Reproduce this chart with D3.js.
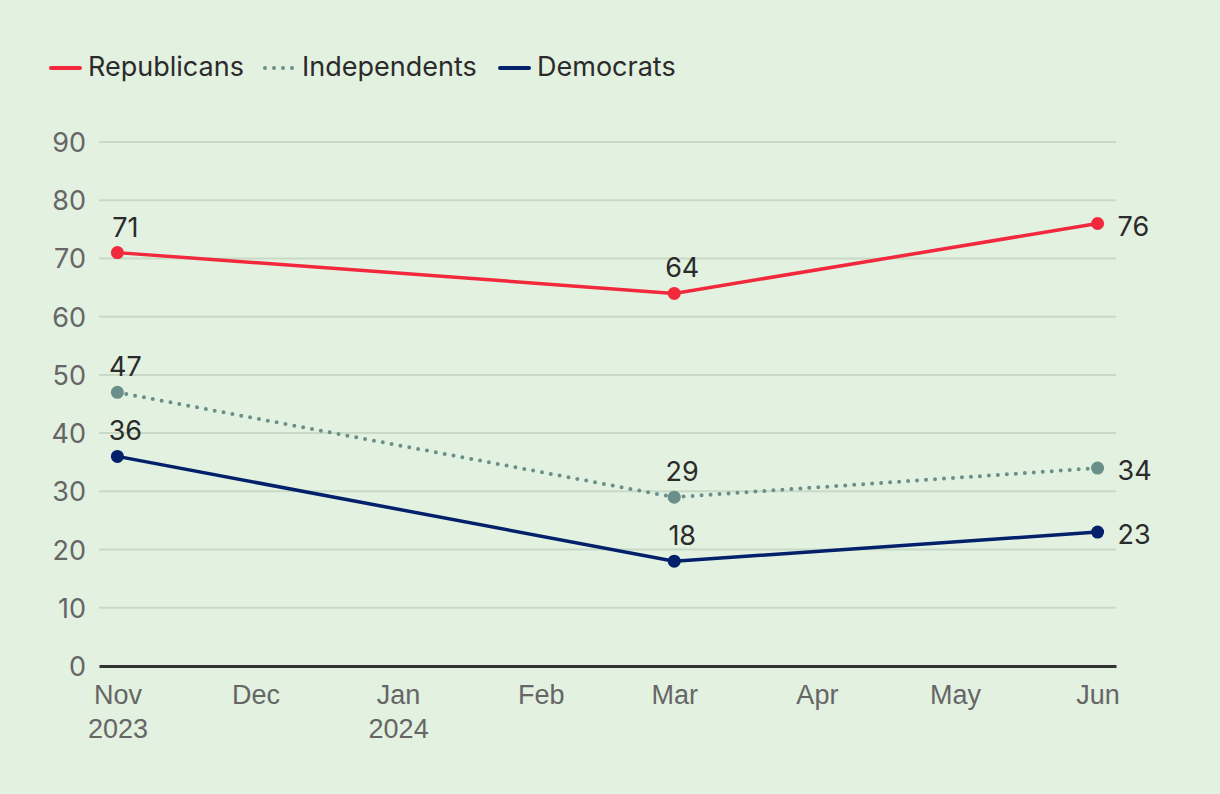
<!DOCTYPE html>
<html><head><meta charset="utf-8">
<script src="https://cdn.jsdelivr.net/npm/d3@7"></script>
<style>
html,body{margin:0;padding:0;background:#e2f1e0;}
svg{display:block;font-family:Inter,"Noto Sans",sans-serif;}
</style></head>
<body>
<script>
const dates = ["2023-11-01","2024-03-01","2024-06-01"];
const republicans = [71,64,76];
const independents = [47,29,34];
const democrats = [36,18,23];
const seriesNames = ["Republicans","Independents","Democrats"];
const seriesColors = ["#f2283c","#6a8f8a","#03206b"];
const yTicks = [0,10,20,30,40,50,60,70,80,90];
const xTickDates = ["2023-11-01","2023-12-01","2024-01-01","2024-02-01","2024-03-01","2024-04-01","2024-05-01","2024-06-01"];

const W=1220,H=794;
const FS=27;
const svg=d3.select("body").append("svg").attr("width",W).attr("height",H);
svg.append("rect").attr("width",W).attr("height",H).attr("fill","#e2f1e0");

const parse=d3.utcParse("%Y-%m-%d");
const x=d3.scaleUtc().domain([parse("2023-10-28"),parse("2024-06-05")]).range([99,1116]);
const y=d3.scaleLinear().domain([0,90]).range([666,142]);

// gridlines
const yAxis=d3.axisLeft(y).tickValues(yTicks).tickSize(0).tickPadding(13);
const gy=svg.append("g").attr("transform","translate(99,0)").call(yAxis);
gy.select(".domain").remove();
gy.selectAll("text").attr("font-size",FS).attr("fill","#666").attr("dy","0.35em").attr("font-family","Inter,sans-serif");
svg.append("g").selectAll("line").data(yTicks.filter(d=>d>0)).join("line")
 .attr("x1",99).attr("x2",1116).attr("y1",d=>y(d)).attr("y2",d=>y(d))
 .attr("stroke","#c8dac5").attr("stroke-width",2);

// x axis
const fmtM=d3.utcFormat("%b");
const xAxis=d3.axisBottom(x).tickValues(xTickDates.map(parse)).tickSize(0).tickPadding(0).tickFormat("");
const gx=svg.append("g").attr("transform","translate(0,666)").call(xAxis);
gx.select(".domain").attr("stroke","#333").attr("stroke-width",3);
gx.selectAll(".tick").each(function(d){
  const t=d3.select(this).append("text").attr("fill","#666").attr("font-size",FS).attr("text-anchor","middle");
  t.append("tspan").attr("x",0).attr("y",38).text(fmtM(d));
  if(d.getUTCMonth()===10||d.getUTCMonth()===0){
    t.append("tspan").attr("x",0).attr("y",72).text(d.getUTCFullYear());
  }
});

const allSeries=[republicans,independents,democrats];
const line=d3.line().x((d,i)=>x(parse(dates[i]))).y(d=>y(d));
allSeries.forEach((vals,si)=>{
  const p=svg.append("path").datum(vals).attr("d",line).attr("fill","none")
    .attr("stroke",seriesColors[si]).attr("stroke-width",si===1?4:3.5);
  if(si===1) p.attr("stroke-dasharray","0 9").attr("stroke-linecap","round");
  svg.append("g").selectAll("circle").data(vals).join("circle")
   .attr("cx",(d,i)=>x(parse(dates[i]))).attr("cy",d=>y(d)).attr("r",6.5).attr("fill",seriesColors[si]);
  svg.append("g").selectAll("text").data(vals).join("text")
   .attr("x",(d,i)=>i<2?x(parse(dates[i]))+8:x(parse(dates[i]))+20)
   .attr("y",(d,i)=>i<2?y(d)-16:y(d)+12)
   .attr("text-anchor",(d,i)=>i<2?"middle":"start")
   .attr("font-size",FS).attr("fill","#2b2b2b").text(d=>d);
});

// legend
const leg=[{x1:51,x2:80,tx:88},{x1:265,x2:295,tx:302},{x1:500,x2:529,tx:537}];
leg.forEach((l,i)=>{
  const ln=svg.append("line").attr("x1",l.x1).attr("x2",l.x2).attr("y1",68).attr("y2",68)
   .attr("stroke",seriesColors[i]).attr("stroke-width",4).attr("stroke-linecap","round");
  if(i===1) ln.attr("stroke-dasharray","0 9");
  svg.append("text").attr("x",l.tx).attr("y",76).attr("font-size",FS).attr("fill","#2b2b2b").text(seriesNames[i]);
});
</script>
</body></html>
